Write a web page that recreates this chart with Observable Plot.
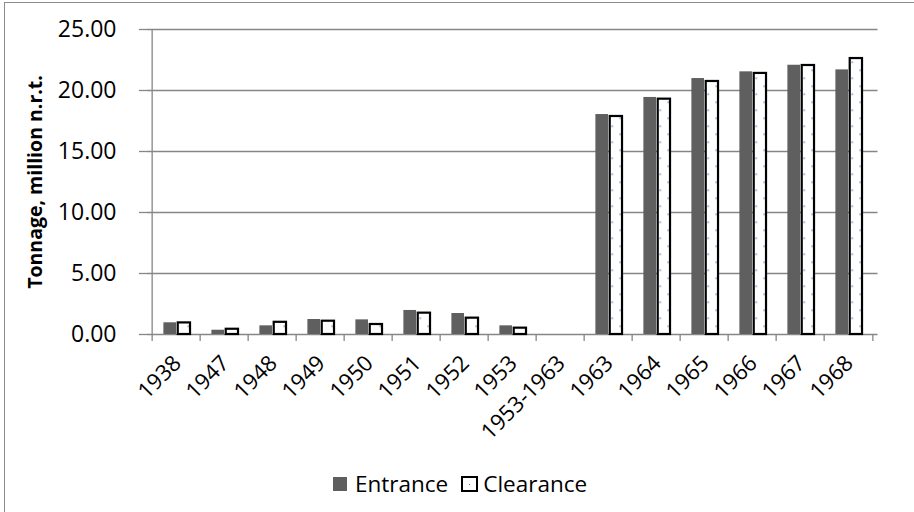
<!DOCTYPE html>
<html>
<head>
<meta charset="utf-8">
<script src="https://cdn.jsdelivr.net/npm/d3@7"></script>
<script src="https://cdn.jsdelivr.net/npm/@observablehq/plot@0.6"></script>
<style>
  html, body { margin: 0; padding: 0; background: #fff; }
  #chart { position: relative; width: 914px; height: 512px; overflow: hidden; font-family: "Open Sans", sans-serif; }
  #border { position: absolute; left: 4px; top: 2px; width: 1000px; height: 600px; border-left: 1.6px solid #8c8c8c; border-top: 1.6px solid #8c8c8c; }
  #plot { position: absolute; left: 0; top: 0; }
  #legend { position: absolute; left: 333px; top: 469px; display: flex; align-items: center; font-size: 22.5px; color: #000; line-height: 30px; }
  .sw { display: inline-block; box-sizing: border-box; }
  .sw.ent { width: 14px; height: 14px; background: #5f5f5f; margin-right: 8px; }
  .sw.clr { width: 17px; height: 16px; border: 2px solid #000; background: #fff; margin-left: 13px; margin-right: 5px; position: relative; }
  .sw.clr::after { content: ""; position: absolute; left: 5.5px; top: 5.5px; width: 1.4px; height: 1.4px; background: #4a7ebb; }
</style>
</head>
<body>
<div id="chart">
  <div id="border"></div>
  <div id="plot"></div>
  <div id="legend">
    <span class="sw ent"></span><span>Entrance</span>
    <span class="sw clr"></span><span>Clearance</span>
  </div>
</div>
<script>
// Ships entering and clearing, tonnage in million net registered tons
const categories = ["1938", "1947", "1948", "1949", "1950", "1951", "1952", "1953", "1953-1963",
                    "1963", "1964", "1965", "1966", "1967", "1968"];
const entrance  = [0.96, 0.35, 0.71, 1.23, 1.20, 1.97, 1.72, 0.71, null,
                   18.03, 19.43, 20.98, 21.53, 22.07, 21.69];
const clearance = [0.95, 0.43, 1.00, 1.09, 0.82, 1.75, 1.34, 0.52, null,
                   17.87, 19.29, 20.74, 21.40, 22.05, 22.62];
const yTicks = [0, 5, 10, 15, 20, 25];
const yTitle = "Tonnage, million n.r.t.";

const rows = categories.map((year, i) => ({year, entrance: entrance[i], clearance: clearance[i]}));

const W = 914, H = 460;
const mL = 147, mR = 36.5, mT = 29, mB = 126;
const bw = (W - mL - mR) / categories.length;   // band width of one year
const grey = "#868686";

const plot = Plot.plot({
  width: W,
  height: H,
  marginLeft: mL,
  marginRight: mR,
  marginTop: mT,
  marginBottom: mB,
  style: {fontFamily: "'Open Sans', sans-serif", color: "#000", background: "transparent", overflow: "visible"},
  x: {type: "band", domain: categories, padding: 0},
  y: {domain: [0, 25]},
  marks: [
    Plot.gridY(yTicks, {stroke: grey, strokeOpacity: 1, strokeWidth: 1.3}),
    // entrance bars: left half of each group
    Plot.barY(rows.filter(d => d.entrance != null), {
      x: "year", y: "entrance", fill: "#5f5f5f",
      insetLeft: bw * 0.234, insetRight: bw * 0.493
    }),
    // clearance bars: dotted white fill with black outline
    Plot.barY(rows.filter(d => d.clearance != null), {
      x: "year", y: "clearance", fill: "url(#dots)", stroke: "#000", strokeWidth: 2.2,
      insetLeft: bw * 0.528, insetRight: bw * 0.205
    }),
    // y axis line
    Plot.ruleX([categories[0]], {x: d => d, dx: -bw / 2, stroke: grey, strokeWidth: 1.3}),
    Plot.axisY(yTicks, {
      tickFormat: d3.format(".2f"), tickSize: 8, tickPadding: 23,
      fontSize: 23, stroke: grey, strokeWidth: 1.3, label: null
    }),
    // category boundary tick marks
    Plot.axisX({tickSize: 7, dx: -bw / 2, tickFormat: () => "", stroke: grey, strokeWidth: 1.3, label: null}),
    Plot.axisX([categories[categories.length - 1]], {tickSize: 7, dx: bw / 2, tickFormat: () => "", stroke: grey, strokeWidth: 1.3, label: null}),
    // rotated year labels
    Plot.text(categories, {
      x: d => d, frameAnchor: "bottom", rotate: -45, textAnchor: "end", lineAnchor: "middle",
      dx: 1, dy: 25, fontSize: 22, fill: "#000"
    }),
    Plot.text([yTitle], {
      frameAnchor: "left", dx: -112, rotate: -90, textAnchor: "middle", lineAnchor: "middle",
      fontSize: 19.5, fontWeight: "bold", fill: "#000"
    })
  ]
});

// dotted pattern used by the clearance bars
const defs = d3.select(plot).insert("defs", ":first-child");
const pat = defs.append("pattern")
  .attr("id", "dots").attr("patternUnits", "userSpaceOnUse")
  .attr("x", 3.5).attr("y", 5.5).attr("width", 16).attr("height", 16);
pat.append("rect").attr("width", 16).attr("height", 16).attr("fill", "#fff");
pat.append("rect").attr("x", 8).attr("y", 0).attr("width", 1.4).attr("height", 1.4).attr("fill", "#4a7ebb");
pat.append("rect").attr("x", 0).attr("y", 8).attr("width", 1.4).attr("height", 1.4).attr("fill", "#4a7ebb");

document.getElementById("plot").appendChild(plot);
</script>
</body>
</html>
